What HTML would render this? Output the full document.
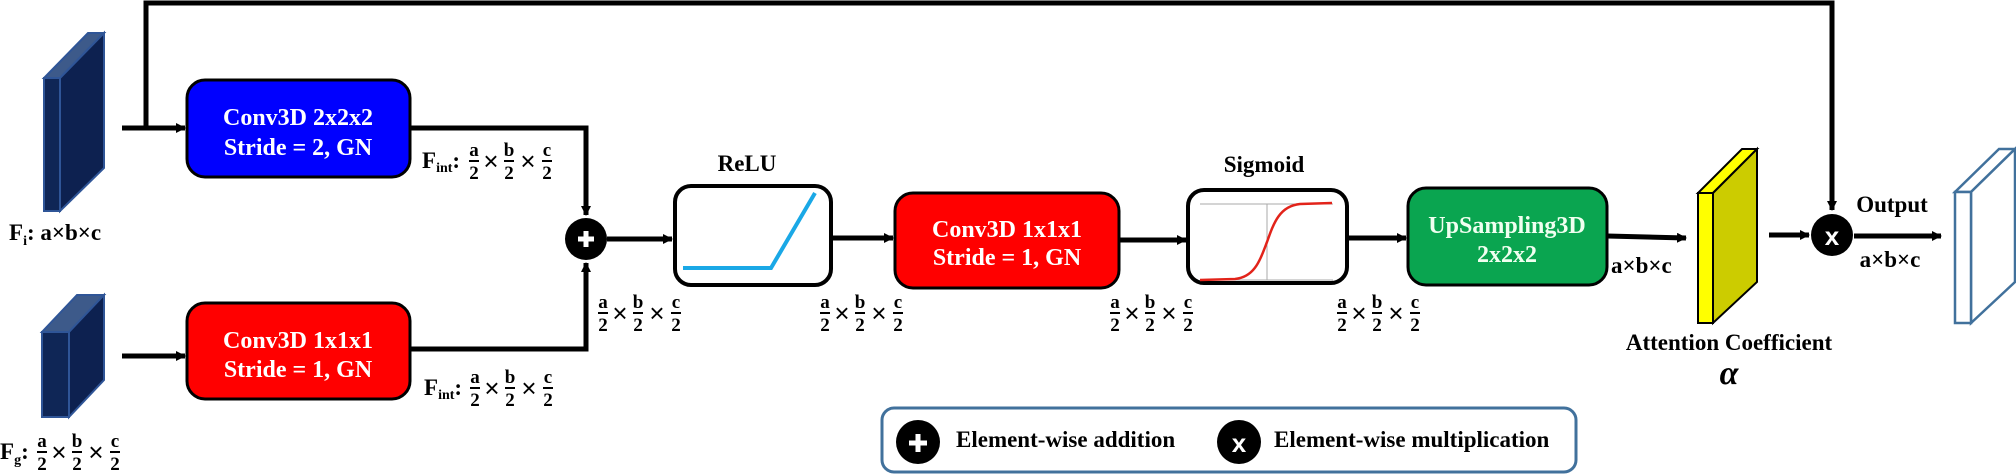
<!DOCTYPE html>
<html><head><meta charset="utf-8"><style>
html,body{margin:0;padding:0;background:#fff;}
svg{display:block;}
text{font-family:"Liberation Serif",serif;font-weight:bold;fill:#000;}
.fr{font-size:19px;}
.x{font-family:"Liberation Sans",sans-serif;font-weight:normal;font-size:26px;}
.bt{font-size:24px;fill:#fff;}
.lb{font-size:23px;}
</style></head><body>
<svg width="2016" height="475" viewBox="0 0 2016 475" xmlns="http://www.w3.org/2000/svg">
<defs>
<marker id="ah" markerWidth="10" markerHeight="10" refX="9" refY="5" orient="auto" markerUnits="userSpaceOnUse">
<path d="M0,0 L10,5 L0,10 Z" fill="#000"/>
</marker>
</defs>
<g stroke="#000" stroke-width="5" fill="none">
<polyline points="146,128 146,3 1832,3 1832,210" marker-end="url(#ah)"/>
<line x1="122" y1="128" x2="185" y2="128" marker-end="url(#ah)"/>
<line x1="122" y1="356" x2="185" y2="356" marker-end="url(#ah)"/>
<polyline points="410,128 586,128 586,215" marker-end="url(#ah)"/>
<polyline points="410,349 586,349 586,263" marker-end="url(#ah)"/>
<line x1="607" y1="239" x2="672" y2="239" marker-end="url(#ah)"/>
<line x1="831" y1="238" x2="893" y2="238" marker-end="url(#ah)"/>
<line x1="1119" y1="240" x2="1186" y2="240" marker-end="url(#ah)"/>
<line x1="1347" y1="238" x2="1406" y2="238" marker-end="url(#ah)"/>
<line x1="1607" y1="236" x2="1686" y2="238" marker-end="url(#ah)"/>
<line x1="1769" y1="235" x2="1809" y2="235" marker-end="url(#ah)"/>
<line x1="1854" y1="236" x2="1941" y2="236" marker-end="url(#ah)"/>
</g>

<polygon points="44,78 60,78 104,33 88,33" fill="#3d5a8a" stroke="#2f5597" stroke-width="2"/>
<polygon points="60,78 104,33 104,168 60,211" fill="#0d2150" stroke="#2f5597" stroke-width="2"/>
<rect x="44" y="78" width="16" height="133" fill="#0f2656" stroke="#2f5597" stroke-width="2"/>
<polygon points="42,332 69,332 104,295 77,295" fill="#3d5a8a" stroke="#2f5597" stroke-width="2"/>
<polygon points="69,332 104,295 104,380 69,417" fill="#0d2150" stroke="#2f5597" stroke-width="2"/>
<rect x="42" y="332" width="27" height="85" fill="#0f2656" stroke="#2f5597" stroke-width="2"/>

<rect x="187" y="80" width="223" height="97" rx="18" fill="#0000ff" stroke="#000" stroke-width="3"/>
<text class="bt" x="298" y="125" text-anchor="middle">Conv3D 2x2x2</text>
<text class="bt" x="298" y="155" text-anchor="middle">Stride = 2, GN</text>
<rect x="187" y="303" width="223" height="96" rx="18" fill="#ff0000" stroke="#000" stroke-width="3"/>
<text class="bt" x="298" y="348" text-anchor="middle">Conv3D 1x1x1</text>
<text class="bt" x="298" y="377" text-anchor="middle">Stride = 1, GN</text>

<rect x="675" y="186" width="156" height="99" rx="16" fill="#fff" stroke="#000" stroke-width="4"/>
<polyline points="683,268 771,268 815,193" fill="none" stroke="#1aa8e6" stroke-width="4"/>
<text class="lb" x="747" y="171" text-anchor="middle">ReLU</text>

<rect x="895" y="193" width="224" height="95" rx="18" fill="#ff0000" stroke="#000" stroke-width="3"/>
<text class="bt" x="1007" y="237" text-anchor="middle">Conv3D 1x1x1</text>
<text class="bt" x="1007" y="265" text-anchor="middle">Stride = 1, GN</text>

<rect x="1188" y="190" width="159" height="93" rx="16" fill="#fff" stroke="#000" stroke-width="4"/>
<line x1="1200" y1="204" x2="1333" y2="204" stroke="#aaa" stroke-width="1"/>
<line x1="1200" y1="280" x2="1333" y2="280" stroke="#aaa" stroke-width="1"/>
<line x1="1267" y1="204" x2="1267" y2="280" stroke="#aaa" stroke-width="1"/>
<path d="M1200,280 L1235,279 C1255,277 1260,260 1267,242 C1274,222 1280,206 1300,204 L1332,203" fill="none" stroke="#e2231a" stroke-width="2.5"/>
<text class="lb" x="1264" y="172" text-anchor="middle">Sigmoid</text>

<rect x="1408" y="188" width="199" height="97" rx="18" fill="#0aa550" stroke="#000" stroke-width="3"/>
<text class="bt" x="1507" y="233" text-anchor="middle" style="fill:#f0fff0">UpSampling3D</text>
<text class="bt" x="1507" y="262" text-anchor="middle" style="fill:#f0fff0">2x2x2</text>

<circle cx="586" cy="239" r="21" fill="#000"/>
<path d="M578,239 H594 M586,231 V247" stroke="#fff" stroke-width="5"/>
<circle cx="1832" cy="235" r="21" fill="#000"/>
<text x="1832" y="245" text-anchor="middle" style="fill:#fff;font-family:'Liberation Sans',sans-serif;font-size:26px">x</text>

<polygon points="1698,193 1713,193 1757,149 1742,149" fill="#ffff00" stroke="#000" stroke-width="2"/>
<polygon points="1713,193 1757,149 1757,282 1713,323" fill="#cccc00" stroke="#000" stroke-width="2"/>
<rect x="1698" y="193" width="15" height="130" fill="#ffff00" stroke="#000" stroke-width="2"/>
<polygon points="1955,192 1971,192 2015,149 1999,149" fill="#fff" stroke="#41719c" stroke-width="2.5"/>
<polygon points="1971,192 2015,149 2015,282 1971,323" fill="#fff" stroke="#41719c" stroke-width="2.5"/>
<rect x="1955" y="192" width="16" height="131" fill="#fff" stroke="#41719c" stroke-width="2.5"/>

<text class="lb" x="9" y="240">F<tspan font-size="14" dy="5">i</tspan><tspan dy="-5">: a×b×c</tspan></text>
<text class="lb" x="1611" y="273">a×b×c</text>
<text class="lb" x="1890" y="267" text-anchor="middle">a×b×c</text>
<text class="lb" x="1892" y="212" text-anchor="middle">Output</text>
<text class="lb" x="1729" y="350" text-anchor="middle">Attention Coefficient</text>
<text x="1729" y="384" text-anchor="middle" style="font-size:34px;font-style:italic;font-weight:bold;font-family:'Liberation Serif',serif">α</text>

<text class="lb" x="422" y="168">F<tspan font-size="14" dy="4">int</tspan><tspan dy="-4">:</tspan></text>
<text class="lb" x="424" y="395">F<tspan font-size="14" dy="4">int</tspan><tspan dy="-4">:</tspan></text>
<text class="lb" x="0" y="459">F<tspan font-size="14" dy="5">g</tspan><tspan dy="-5">:</tspan></text>

<g transform="translate(469,161)"><text class="fr" x="5" y="-5" text-anchor="middle">a</text><line x1="0" y1="0" x2="10" y2="0" stroke="#000" stroke-width="2"/><text class="fr" x="5" y="18" text-anchor="middle">2</text><text class="x" x="22" y="9" text-anchor="middle">×</text><text class="fr" x="40" y="-5" text-anchor="middle">b</text><line x1="35" y1="0" x2="45" y2="0" stroke="#000" stroke-width="2"/><text class="fr" x="40" y="18" text-anchor="middle">2</text><text class="x" x="59" y="9" text-anchor="middle">×</text><text class="fr" x="78" y="-5" text-anchor="middle">c</text><line x1="73" y1="0" x2="83" y2="0" stroke="#000" stroke-width="2"/><text class="fr" x="78" y="18" text-anchor="middle">2</text></g>
<g transform="translate(470,388)"><text class="fr" x="5" y="-5" text-anchor="middle">a</text><line x1="0" y1="0" x2="10" y2="0" stroke="#000" stroke-width="2"/><text class="fr" x="5" y="18" text-anchor="middle">2</text><text class="x" x="22" y="9" text-anchor="middle">×</text><text class="fr" x="40" y="-5" text-anchor="middle">b</text><line x1="35" y1="0" x2="45" y2="0" stroke="#000" stroke-width="2"/><text class="fr" x="40" y="18" text-anchor="middle">2</text><text class="x" x="59" y="9" text-anchor="middle">×</text><text class="fr" x="78" y="-5" text-anchor="middle">c</text><line x1="73" y1="0" x2="83" y2="0" stroke="#000" stroke-width="2"/><text class="fr" x="78" y="18" text-anchor="middle">2</text></g>
<g transform="translate(37,452)"><text class="fr" x="5" y="-5" text-anchor="middle">a</text><line x1="0" y1="0" x2="10" y2="0" stroke="#000" stroke-width="2"/><text class="fr" x="5" y="18" text-anchor="middle">2</text><text class="x" x="22" y="9" text-anchor="middle">×</text><text class="fr" x="40" y="-5" text-anchor="middle">b</text><line x1="35" y1="0" x2="45" y2="0" stroke="#000" stroke-width="2"/><text class="fr" x="40" y="18" text-anchor="middle">2</text><text class="x" x="59" y="9" text-anchor="middle">×</text><text class="fr" x="78" y="-5" text-anchor="middle">c</text><line x1="73" y1="0" x2="83" y2="0" stroke="#000" stroke-width="2"/><text class="fr" x="78" y="18" text-anchor="middle">2</text></g>
<g transform="translate(598,313)"><text class="fr" x="5" y="-5" text-anchor="middle">a</text><line x1="0" y1="0" x2="10" y2="0" stroke="#000" stroke-width="2"/><text class="fr" x="5" y="18" text-anchor="middle">2</text><text class="x" x="22" y="9" text-anchor="middle">×</text><text class="fr" x="40" y="-5" text-anchor="middle">b</text><line x1="35" y1="0" x2="45" y2="0" stroke="#000" stroke-width="2"/><text class="fr" x="40" y="18" text-anchor="middle">2</text><text class="x" x="59" y="9" text-anchor="middle">×</text><text class="fr" x="78" y="-5" text-anchor="middle">c</text><line x1="73" y1="0" x2="83" y2="0" stroke="#000" stroke-width="2"/><text class="fr" x="78" y="18" text-anchor="middle">2</text></g>
<g transform="translate(820,313)"><text class="fr" x="5" y="-5" text-anchor="middle">a</text><line x1="0" y1="0" x2="10" y2="0" stroke="#000" stroke-width="2"/><text class="fr" x="5" y="18" text-anchor="middle">2</text><text class="x" x="22" y="9" text-anchor="middle">×</text><text class="fr" x="40" y="-5" text-anchor="middle">b</text><line x1="35" y1="0" x2="45" y2="0" stroke="#000" stroke-width="2"/><text class="fr" x="40" y="18" text-anchor="middle">2</text><text class="x" x="59" y="9" text-anchor="middle">×</text><text class="fr" x="78" y="-5" text-anchor="middle">c</text><line x1="73" y1="0" x2="83" y2="0" stroke="#000" stroke-width="2"/><text class="fr" x="78" y="18" text-anchor="middle">2</text></g>
<g transform="translate(1110,313)"><text class="fr" x="5" y="-5" text-anchor="middle">a</text><line x1="0" y1="0" x2="10" y2="0" stroke="#000" stroke-width="2"/><text class="fr" x="5" y="18" text-anchor="middle">2</text><text class="x" x="22" y="9" text-anchor="middle">×</text><text class="fr" x="40" y="-5" text-anchor="middle">b</text><line x1="35" y1="0" x2="45" y2="0" stroke="#000" stroke-width="2"/><text class="fr" x="40" y="18" text-anchor="middle">2</text><text class="x" x="59" y="9" text-anchor="middle">×</text><text class="fr" x="78" y="-5" text-anchor="middle">c</text><line x1="73" y1="0" x2="83" y2="0" stroke="#000" stroke-width="2"/><text class="fr" x="78" y="18" text-anchor="middle">2</text></g>
<g transform="translate(1337,313)"><text class="fr" x="5" y="-5" text-anchor="middle">a</text><line x1="0" y1="0" x2="10" y2="0" stroke="#000" stroke-width="2"/><text class="fr" x="5" y="18" text-anchor="middle">2</text><text class="x" x="22" y="9" text-anchor="middle">×</text><text class="fr" x="40" y="-5" text-anchor="middle">b</text><line x1="35" y1="0" x2="45" y2="0" stroke="#000" stroke-width="2"/><text class="fr" x="40" y="18" text-anchor="middle">2</text><text class="x" x="59" y="9" text-anchor="middle">×</text><text class="fr" x="78" y="-5" text-anchor="middle">c</text><line x1="73" y1="0" x2="83" y2="0" stroke="#000" stroke-width="2"/><text class="fr" x="78" y="18" text-anchor="middle">2</text></g>

<rect x="882" y="408" width="694" height="64" rx="12" fill="#fff" stroke="#41719c" stroke-width="3"/>
<circle cx="918" cy="442" r="22" fill="#000"/>
<path d="M909,443 H927 M918,434 V452" stroke="#fff" stroke-width="5"/>
<text class="lb" x="956" y="447">Element-wise addition</text>
<circle cx="1239" cy="442" r="22" fill="#000"/>
<text x="1239" y="452" text-anchor="middle" style="fill:#fff;font-family:'Liberation Sans',sans-serif;font-size:26px">x</text>
<text class="lb" x="1274" y="447">Element-wise multiplication</text>
</svg>
</body></html>
